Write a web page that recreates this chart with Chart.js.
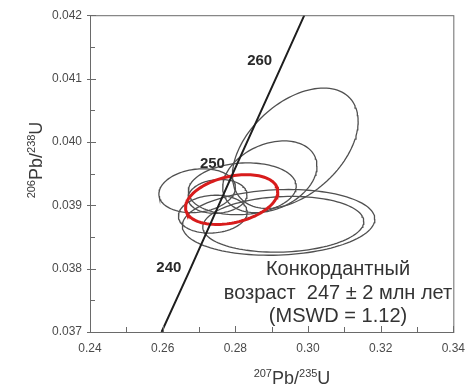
<!DOCTYPE html>
<html>
<head>
<meta charset="utf-8">
<script src="https://cdn.jsdelivr.net/npm/chart.js@4.4.1/dist/chart.umd.min.js"></script>
<style>
  body { margin: 0; background: #fff; }
  canvas { display: block; }
</style>
</head>
<body>
<canvas id="concordia" width="474" height="387"></canvas>
<script>
// concordia curve, 207Pb/235U vs 206Pb/238U
const concordiaX = [0.2597, 0.2671, 0.2796, 0.2924, 0.2990];
const concordiaY = [0.0370, 0.03793, 0.03954, 0.04116, 0.0420];

// age marks along the curve (Ma) and where their labels sit
const ageLabels = ["240", "250", "260"];
const ageLabelX = [0.2617, 0.2737, 0.2867];
const ageLabelY = [0.03801, 0.03966, 0.04128];

// single zircon analyses: centre, 2 sigma errors, error correlation
const spotX = [0.2965, 0.2895, 0.2695, 0.2819, 0.2751, 0.2738, 0.2919, 0.2932];
const spotY = [0.03990, 0.03945, 0.03923, 0.03926, 0.03914, 0.03886, 0.03873, 0.03870];
const spotErrX = [0.01730, 0.01297, 0.01054, 0.01486, 0.00811, 0.00946, 0.02649, 0.02216];
const spotErrY = [0.000950, 0.000566, 0.000346, 0.000409, 0.000267, 0.000299, 0.000519, 0.00044];
const spotRho = [0.45, 0.3, 0.15, 0.1, 0.1, 0.1, 0.1, 0.1];

// concordia age ellipse
const ageX = 0.2790, ageY = 0.03909, ageErrX = 0.01270, ageErrY = 0.000393, ageRho = 0.32;

const xTicksMin = 0.24, xTicksMax = 0.34;
const yTicksMin = 0.037, yTicksMax = 0.042;

const textLines = ["Конкордантный", "возраст  247 ± 2 млн лет", "(MSWD = 1.12)"];

function ellipsePoints(cx, cy, sx, sy, rho) {
  let pts = [];
  let k = Math.sqrt(1 - rho * rho);
  for (let i = 0; i <= 120; i++) {
    let t = (i / 120) * 2 * Math.PI;
    pts.push({
      x: cx + sx * Math.cos(t),
      y: cy + sy * (rho * Math.cos(t) + k * Math.sin(t)),
    });
  }
  return pts;
}

let datasets = [];

datasets.push({
  data: concordiaX.map((x, i) => ({ x: x, y: concordiaY[i] })),
  borderColor: "#1e1e1e",
  borderWidth: 2,
  order: 0,
});

datasets.push({
  data: ellipsePoints(ageX, ageY, ageErrX, ageErrY, ageRho),
  borderColor: "#d81c1c",
  borderWidth: 3,
  order: 1,
});

for (let i = 0; i < spotX.length; i++) {
  datasets.push({
    data: ellipsePoints(spotX[i], spotY[i], spotErrX[i], spotErrY[i], spotRho[i]),
    borderColor: "#505050",
    borderWidth: 1.3,
    order: 2,
  });
}

datasets.forEach((d) => {
  d.showLine = true;
  d.pointRadius = 0;
  d.tension = 0;
  d.fill = false;
});

const fontFamily = "'Liberation Sans', Arial, sans-serif";

// draws "sup big sup big" pieces as one string, centred on 0
function drawIsotopeTitle(ctx, parts) {
  let width = 0;
  parts.forEach((p) => {
    ctx.font = (p.sup ? "11px " : "18px ") + fontFamily;
    p.w = ctx.measureText(p.text).width;
    width += p.w;
  });
  let x = -width / 2;
  parts.forEach((p) => {
    ctx.font = (p.sup ? "11px " : "18px ") + fontFamily;
    ctx.fillText(p.text, x, p.sup ? -7 : 0);
    x += p.w;
  });
}

const framePlugin = {
  id: "frame",
  afterDraw(chart) {
    let ctx = chart.ctx;
    let area = chart.chartArea;
    let xs = chart.scales.x;
    let ys = chart.scales.y;
    ctx.save();

    ctx.strokeStyle = "#6a6a6a";
    ctx.lineWidth = 1;
    ctx.strokeRect(area.left + 0.5, area.top + 0.5, area.right - area.left, area.bottom - area.top);

    // inward tick marks
    ctx.beginPath();
    xs.ticks.forEach((t) => {
      let px = Math.round(xs.getPixelForValue(t.value)) + 0.5;
      let major = Math.round(t.value * 100) % 2 === 0;
      ctx.moveTo(px, area.bottom);
      ctx.lineTo(px, area.bottom - (major ? 6 : 5));
    });
    ys.ticks.forEach((t) => {
      let py = Math.round(ys.getPixelForValue(t.value)) + 0.5;
      let major = Math.round(t.value * 10000) % 10 === 0;
      ctx.moveTo(area.left - (major ? 3 : 0), py);
      ctx.lineTo(area.left + (major ? 6 : 5), py);
    });
    ctx.stroke();

    // age labels on the concordia
    ctx.fillStyle = "#2a2a2a";
    ctx.font = "bold 15px " + fontFamily;
    ctx.textAlign = "center";
    ctx.textBaseline = "middle";
    ageLabels.forEach((s, i) => {
      ctx.fillText(s, xs.getPixelForValue(ageLabelX[i]), ys.getPixelForValue(ageLabelY[i]));
    });

    // age result
    ctx.fillStyle = "#333";
    ctx.font = "20px " + fontFamily;
    ctx.textBaseline = "alphabetic";
    ctx.fillText(textLines[0], 338, 275);
    ctx.fillText(textLines[1], 338, 299);
    ctx.fillText(textLines[2], 338, 322);

    // axis titles
    ctx.fillStyle = "#3a3a3a";
    ctx.textAlign = "left";
    ctx.save();
    ctx.translate(292, 384);
    drawIsotopeTitle(ctx, [
      { text: "207", sup: true },
      { text: "Pb/", sup: false },
      { text: "235", sup: true },
      { text: "U", sup: false },
    ]);
    ctx.restore();

    ctx.save();
    ctx.translate(42, 160);
    ctx.rotate(-Math.PI / 2);
    drawIsotopeTitle(ctx, [
      { text: "206", sup: true },
      { text: "Pb/", sup: false },
      { text: "238", sup: true },
      { text: "U", sup: false },
    ]);
    ctx.restore();

    ctx.restore();
  },
};

new Chart(document.getElementById("concordia"), {
  type: "scatter",
  data: { datasets: datasets },
  options: {
    responsive: false,
    animation: false,
    layout: { padding: { top: 14, right: 14, left: 0, bottom: 0 } },
    plugins: {
      legend: { display: false },
      tooltip: { enabled: false },
    },
    scales: {
      x: {
        type: "linear",
        min: xTicksMin,
        max: xTicksMax,
        grid: { display: false, drawTicks: false },
        border: { display: false },
        ticks: {
          stepSize: 0.01,
          autoSkip: false,
          maxRotation: 0,
          padding: 9,
          color: "#4a4a4a",
          font: { size: 12, family: fontFamily },
          callback: (v) => (Math.round(v * 100) % 2 === 0 ? v.toFixed(2) : ""),
        },
        afterFit: (s) => {
          s.height = 55;
        },
      },
      y: {
        type: "linear",
        min: yTicksMin,
        max: yTicksMax,
        grid: { display: false, drawTicks: false },
        border: { display: false },
        ticks: {
          stepSize: 0.0005,
          autoSkip: false,
          padding: 8,
          color: "#4a4a4a",
          font: { size: 12, family: fontFamily },
          callback: (v) => (Math.round(v * 10000) % 10 === 0 ? v.toFixed(3) : ""),
        },
        afterFit: (s) => {
          s.width = 90;
        },
      },
    },
  },
  plugins: [framePlugin],
});
</script>
</body>
</html>
